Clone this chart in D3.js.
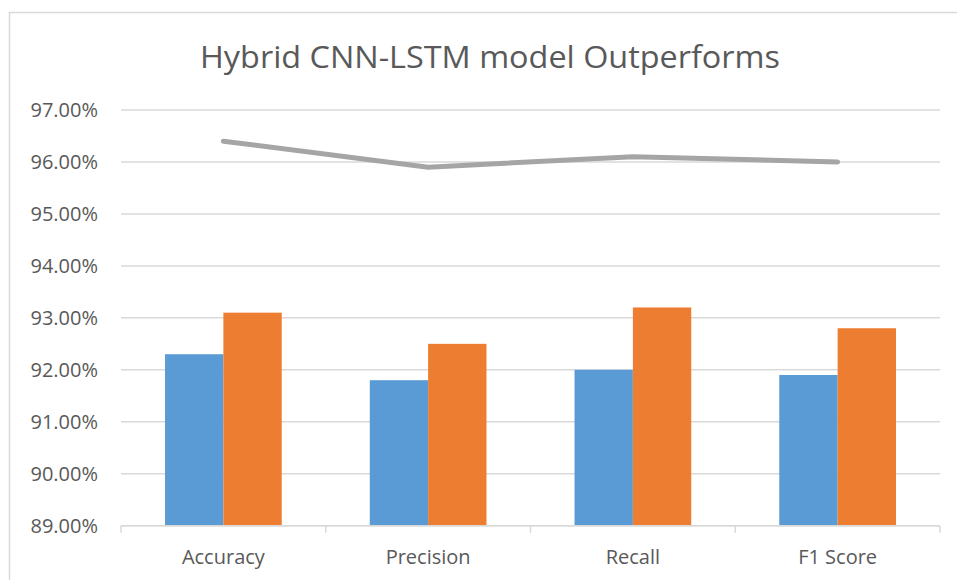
<!DOCTYPE html>
<html>
<head>
<meta charset="utf-8">
<script src="https://cdn.jsdelivr.net/npm/d3@7"></script>
<style>
  body { margin: 0; background: #fff; }
  svg { display: block; }
</style>
</head>
<body>
<div id="chart"></div>
<script>
const categories = ["Accuracy", "Precision", "Recall", "F1 Score"];
const seriesA = [92.3, 91.8, 92.0, 91.9];   // blue bars
const seriesB = [93.1, 92.5, 93.2, 92.8];   // orange bars
const seriesLine = [96.4, 95.9, 96.1, 96.0]; // grey line
const yTicks = [89, 90, 91, 92, 93, 94, 95, 96, 97];

const width = 957, height = 580;
const margin = { top: 110, right: 17, bottom: 54, left: 121 };
const textColor = "#595959";
const font = "'Open Sans', 'Noto Sans', sans-serif";

const svg = d3.select("#chart").append("svg")
    .attr("width", width)
    .attr("height", height);

// outer chart border
svg.append("rect")
    .attr("x", 9.5).attr("y", 12.5)
    .attr("width", 1000).attr("height", 1000)
    .attr("fill", "none")
    .attr("stroke", "#d9d9d9")
    .attr("stroke-width", 1.5);

const x = d3.scaleBand()
    .domain(categories)
    .range([margin.left, width - margin.right]);

const y = d3.scaleLinear()
    .domain([89, 97])
    .range([height - margin.bottom - 0.3, margin.top]);

// gridlines
svg.append("g")
    .selectAll("line")
    .data(yTicks)
    .enter().append("line")
    .attr("x1", margin.left)
    .attr("x2", width - margin.right)
    .attr("y1", d => y(d))
    .attr("y2", d => y(d))
    .attr("stroke", "#d9d9d9")
    .attr("stroke-width", 1.5);

// y labels
svg.append("g")
    .selectAll("text")
    .data(yTicks)
    .enter().append("text")
    .attr("x", 98)
    .attr("y", d => y(d))
    .attr("dy", "0.35em")
    .attr("text-anchor", "end")
    .attr("font-family", font)
    .attr("font-size", 20)
    .attr("fill", textColor)
    .text(d => d.toFixed(2) + "%");

// bars
const barW = x.bandwidth() * 0.285;
const bars = svg.append("g");
categories.forEach((c, i) => {
    const cx = x(c) + x.bandwidth() / 2;
    bars.append("rect")
        .attr("x", cx - barW)
        .attr("y", y(seriesA[i]))
        .attr("width", barW)
        .attr("height", y(89) - y(seriesA[i]))
        .attr("fill", "#5b9bd5");
    bars.append("rect")
        .attr("x", cx)
        .attr("y", y(seriesB[i]))
        .attr("width", barW)
        .attr("height", y(89) - y(seriesB[i]))
        .attr("fill", "#ed7d31");
});

// x axis line + ticks
const axisY = y(89);
svg.append("line")
    .attr("x1", margin.left).attr("x2", width - margin.right)
    .attr("y1", axisY).attr("y2", axisY)
    .attr("stroke", "#d9d9d9").attr("stroke-width", 1.5);

const bounds = categories.map(c => x(c)).concat([x.range()[1]]);
svg.append("g")
    .selectAll("line")
    .data(bounds)
    .enter().append("line")
    .attr("x1", d => d).attr("x2", d => d)
    .attr("y1", axisY).attr("y2", axisY + 7)
    .attr("stroke", "#d9d9d9").attr("stroke-width", 1.5);

// category labels
svg.append("g")
    .selectAll("text")
    .data(categories)
    .enter().append("text")
    .attr("x", d => x(d) + x.bandwidth() / 2)
    .attr("y", 564)
    .attr("text-anchor", "middle")
    .attr("font-family", font)
    .attr("font-size", 20)
    .attr("fill", textColor)
    .text(d => d);

// line series
const line = d3.line()
    .x((d, i) => x(categories[i]) + x.bandwidth() / 2)
    .y(d => y(d));

svg.append("path")
    .datum(seriesLine)
    .attr("d", line)
    .attr("fill", "none")
    .attr("stroke", "#a5a5a5")
    .attr("stroke-width", 5)
    .attr("stroke-linecap", "round")
    .attr("stroke-linejoin", "round");

// title
svg.append("text")
    .attr("x", 490)
    .attr("y", 68)
    .attr("text-anchor", "middle")
    .attr("font-family", font)
    .attr("font-size", 31)
    .attr("fill", textColor)
    .attr("textLength", 580)
    .attr("lengthAdjust", "spacingAndGlyphs")
    .text("Hybrid CNN-LSTM model Outperforms");
</script>
</body>
</html>
